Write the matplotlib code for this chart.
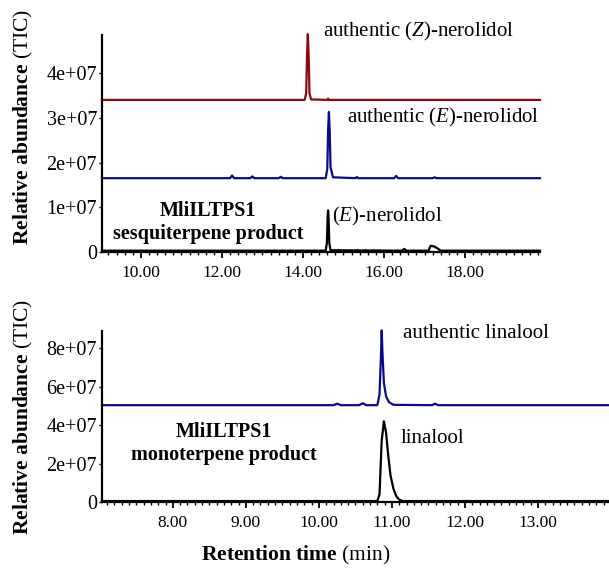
import matplotlib
matplotlib.use("Agg")
import numpy as np
import matplotlib.pyplot as plt
from matplotlib.ticker import MultipleLocator

plt.rcParams["font.family"] = ["Liberation Serif", "DejaVu Serif"]
plt.rcParams["mathtext.fontset"] = "custom"
plt.rcParams["mathtext.rm"] = "Liberation Serif"
plt.rcParams["mathtext.it"] = "Liberation Serif:italic"
plt.rcParams["mathtext.bf"] = "Liberation Serif:bold"

# ---- sesquiterpene panel (abundance in units of 1e7) ----
z_ner_t = [9.04, 12.0, 14.04, 14.08, 14.10, 14.12, 14.14, 14.16, 14.20, 14.60, 14.62, 14.64, 16.0, 19.85]
z_ner_y = [3.40, 3.40, 3.40, 3.55, 4.40, 4.87, 4.40, 3.55, 3.41, 3.40, 3.43, 3.40, 3.40, 3.40]

e_ner_t = [9.04, 12.20, 12.25, 12.30, 12.70, 12.75, 12.80, 13.40, 13.45, 13.50, 14.56, 14.60,
           14.62, 14.64, 14.66, 14.68, 14.74, 15.30, 15.33, 15.36, 16.25, 16.30, 16.35, 17.2, 17.25, 17.3, 19.85]
e_ner_y = [1.65, 1.65, 1.71, 1.65, 1.65, 1.69, 1.65, 1.65, 1.68, 1.65, 1.65, 1.85,
           2.70, 3.13, 2.70, 1.90, 1.67, 1.65, 1.68, 1.65, 1.65, 1.70, 1.65, 1.65, 1.67, 1.65, 1.65]

prod_s_t = [9.04, 14.56, 14.59, 14.61, 14.62, 14.63, 14.65, 14.68, 16.45, 16.50, 16.55,
            17.10, 17.15, 17.25, 17.32, 17.40, 19.85]
prod_s_y = [0.03, 0.03, 0.20, 0.80, 0.93, 0.80, 0.20, 0.04, 0.03, 0.07, 0.03,
            0.03, 0.14, 0.12, 0.08, 0.03, 0.03]

# ---- monoterpene panel ----
lin_t = [7.03, 10.20, 10.25, 10.30, 10.55, 10.60, 10.65, 10.80, 10.83, 10.85, 10.86,
         10.87, 10.89, 10.92, 10.96, 11.02, 11.55, 11.59, 11.63, 13.96]
lin_y = [5.04, 5.04, 5.12, 5.04, 5.04, 5.14, 5.04, 5.04, 5.6, 7.6, 8.93,
         7.8, 6.2, 5.5, 5.2, 5.06, 5.04, 5.12, 5.04, 5.04]

prod_m_t = [7.03, 10.80, 10.83, 10.86, 10.89, 10.92, 10.95, 10.98, 11.02, 11.06, 11.10, 11.15, 13.96]
prod_m_y = [0.05, 0.05, 0.4, 3.2, 4.2, 3.6, 2.4, 1.4, 0.7, 0.3, 0.12, 0.05, 0.05]

top_yticks = [0, 1, 2, 3, 4]
top_ylabels = ["0", "1e+07", "2e+07", "3e+07", "4e+07"]
top_xticks = [10, 12, 14, 16, 18]
bot_yticks = [0, 2, 4, 6, 8]
bot_ylabels = ["0", "2e+07", "4e+07", "6e+07", "8e+07"]
bot_xticks = [8, 9, 10, 11, 12, 13]

red = "#8b0a0a"
navy = "#0a0a8a"
W, H = 609, 573

fig = plt.figure(figsize=(6.09, 5.73), dpi=100)
ax1 = fig.add_axes([0.1675, 0.5602, 0.7192, 0.3787])
ax2 = fig.add_axes([0.1675, 0.1239, 0.8310, 0.2984])


def style(ax, xticks, yticks, ylabels, minor):
    for s in ["top", "right"]:
        ax.spines[s].set_visible(False)
    for s in ["left", "bottom"]:
        ax.spines[s].set_linewidth(1.6)
    ax.set_xticks(xticks)
    ax.set_xticklabels(["%.2f" % v for v in xticks])
    ax.xaxis.set_minor_locator(MultipleLocator(minor))
    ax.set_yticks(yticks)
    ax.set_yticklabels(ylabels)
    ax.tick_params(axis="x", which="major", direction="out", length=4, width=1.3,
                   labelsize=12.5, pad=5)
    ax.tick_params(axis="x", which="minor", direction="out", length=2.5, width=1.0)
    ax.tick_params(axis="y", direction="out", length=2.5, width=1.0, labelsize=14.5, pad=1)


ax1.plot(z_ner_t, z_ner_y, color=red, lw=1.6, clip_on=False)
ax1.plot(e_ner_t, e_ner_y, color=navy, lw=1.6, clip_on=False)
ax1.plot(prod_s_t, prod_s_y, color="black", lw=1.6, clip_on=False)
ax1.set_xlim(9.04, 19.85)
ax1.set_ylim(0, 4.85)
style(ax1, top_xticks, top_yticks, top_ylabels, 0.2)

ax1.text(14.49, 4.92, r"authentic ($\mathit{Z}$)-nerolidol", fontsize=15, va="center")
ax1.text(15.09, 3.00, r"authentic ($\mathit{E}$)-nerolidol", fontsize=15, va="center")
ax1.text(14.72, 0.80, r"($\mathit{E}$)-nerolidol", fontsize=15, va="center")
ax1.text(11.66, 0.66, "MliILTPS1\nsesquiterpene product", fontsize=14.5, fontweight="bold",
         ha="center", va="center", linespacing=1.15)

ax2.plot(lin_t, lin_y, color=navy, lw=1.6, clip_on=False)
ax2.plot(prod_m_t, prod_m_y, color="black", lw=1.6, clip_on=False)
ax2.set_xlim(7.03, 13.96)
ax2.set_ylim(0, 8.9)
style(ax2, bot_xticks, bot_yticks, bot_ylabels, 0.1)

ax2.text(11.15, 8.78, "authentic linalool", fontsize=15, va="center")
ax2.text(11.12, 3.32, "linalool", fontsize=15, va="center")
ax2.text(8.70, 3.05, "MliILTPS1\nmonoterpene product", fontsize=14.5, fontweight="bold",
         ha="center", va="center", linespacing=1.2)

ylab = r"$\mathbf{Relative\ abundance}$ (TIC)"
fig.text(23 / W, 1 - 127 / H, ylab, fontsize=15.5, rotation=90, ha="center", va="center")
fig.text(23 / W, 1 - 417 / H, ylab, fontsize=15.5, rotation=90, ha="center", va="center")
fig.text(296 / W, 1 - 555 / H, r"$\mathbf{Retention\ time}$ (min)", fontsize=15.5,
         ha="center", va="center")

fig.savefig("out.png", dpi=100)
